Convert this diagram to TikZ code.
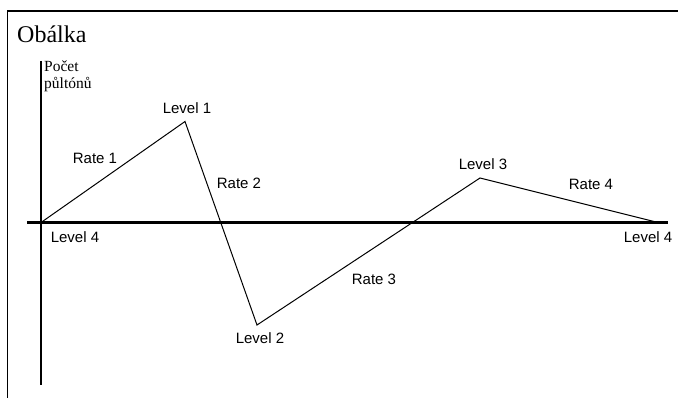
\documentclass[tikz,border=0pt]{standalone}
\usepackage{fontspec}
\setmainfont{Liberation Serif}
\setsansfont{Liberation Sans}
\begin{document}
\begin{tikzpicture}[x=1pt,y=-1pt]
% Stili
\tikzstyle{label} = [
    inner sep=0pt,
    font=\sffamily\fontsize{15}{17}\selectfont
]

\tikzstyle{axis} = [
    line width=2.6pt
]

\tikzstyle{curve} = [
    line width=1pt
]

\useasboundingbox (0,0) rectangle (678,398);

% Rámeček
\draw[line width=1.2pt] (7.5,398) -- (7.5,11) -- (678,11);

\node[anchor=base west, inner sep=0pt, font=\fontsize{24}{28}\selectfont] (title) at (17,43)
{Obálka};

% Osy
\coordinate (o) at (41,222.5);
\coordinate (ytop) at (41,61);
\coordinate (ybot) at (41,385);
\coordinate (xl) at (27,222.5);
\coordinate (xr) at (668,222.5);

\draw[axis] (ytop) -- (ybot);
\draw[axis] (xl) -- (xr);

\node[anchor=north west, inner sep=0pt, align=left, font=\fontsize{15.5}{17}\selectfont] (ylab) at (44,61)
{Počet\\půltónů};

% Body
\coordinate (l1) at (185,121.5);
\coordinate (l2) at (257,325);
\coordinate (l3) at (480,178);
\coordinate (l4) at (658,222.5);

\draw[curve] (o) -- (l1) -- (l2) -- (l3) -- (l4);

% Popisky
\node[label] (t1) at (187,108) {Level 1};
\node[label] (t2) at (260,338) {Level 2};
\node[label] (t3) at (483,164) {Level 3};
\node[label] (t4a) at (75,237) {Level 4};
\node[label] (t4b) at (648,237) {Level 4};

\node[label] (r1) at (95,158) {Rate 1};
\node[label] (r2) at (239,183) {Rate 2};
\node[label] (r3) at (374,279) {Rate 3};
\node[label] (r4) at (591,184) {Rate 4};

\end{tikzpicture}
\end{document}
